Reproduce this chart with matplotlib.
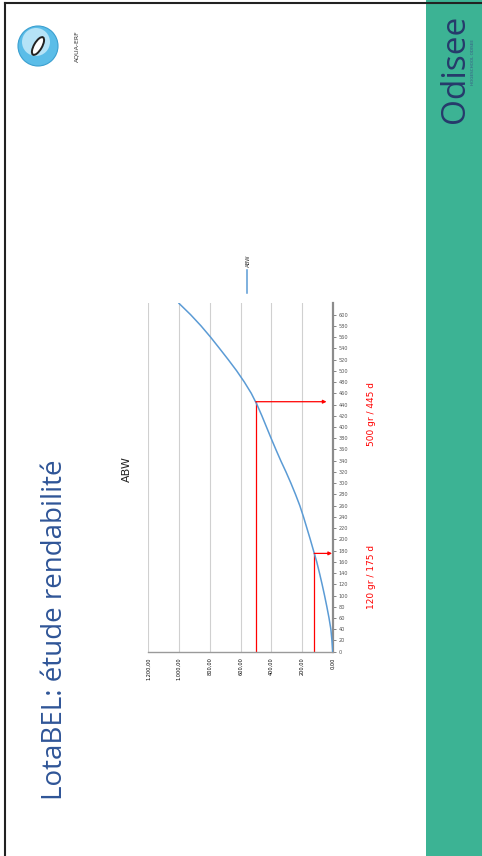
import numpy as np
import matplotlib.pyplot as plt
from matplotlib.patches import Circle, Ellipse, Rectangle
from matplotlib.lines import Line2D
from matplotlib.transforms import IdentityTransform

W, H = 482, 856

# growth curve (average body weight, g) per day
days = [0, 20, 40, 60, 80, 100, 120, 140, 160, 180, 200, 220, 240, 260, 280, 300,
        320, 340, 360, 380, 400, 420, 440, 460, 480, 500, 520, 540, 560, 580, 600, 620]
abw = [0, 5, 12, 24, 38, 53, 69, 86, 104, 125, 146, 168, 190, 214, 242, 272,
       304, 338, 370, 401, 431, 461, 493, 530, 575, 625, 680, 737, 795, 857, 925, 1000]

value_ticks = [0, 200, 400, 600, 800, 1000, 1200]
value_labels = ['0,00', '200,00', '400,00', '600,00', '800,00', '1.000,00', '1.200,00']
day_ticks = list(range(0, 601, 20))

markers = [(120, 175, '120 gr / 175 d'), (500, 445, '500 gr / 445 d')]


def fx(x):
    return x / W


def fy(y):
    return 1 - y / H


fig = plt.figure(figsize=(W / 100, H / 100), dpi=100)
fig.patch.set_facecolor('white')
px = IdentityTransform()

# slide frame and teal band
fig.add_artist(Rectangle((fx(426), 0), fx(W) - fx(426), 1, transform=fig.transFigure,
                         facecolor='#3cb394', edgecolor='none'))
fig.add_artist(Line2D([fx(5), fx(5)], [0, fy(3)], transform=fig.transFigure, color='#222222', lw=1.5))
fig.add_artist(Line2D([fx(5), 1], [fy(3), fy(3)], transform=fig.transFigure, color='#222222', lw=1.5))

# Odisee logo text
fig.text(fx(455), fy(69), 'Odisee', rotation=90, ha='center', va='center',
         fontsize=24, color='#263a6b', family='Open Sans')
fig.text(fx(473), fy(62), 'HOGESCHOOL ODISEE', rotation=90, ha='center', va='center',
         fontsize=3, color='#3b5a86')

# AQUA-ERF logo (pixel coordinates so it stays round)
fig.add_artist(Circle((38, H - 46), 20, transform=px,
                      facecolor='#5bbde8', edgecolor='#3a9fd0', lw=0.8))
fig.add_artist(Circle((36, H - 42), 14, transform=px,
                      facecolor='#b5e3f7', edgecolor='none'))
fig.add_artist(Ellipse((38, H - 46), 8, 20, angle=-30, transform=px,
                       facecolor='white', edgecolor='#222222', lw=1.4))
fig.text(fx(77), fy(46), 'AQUA-ERF', rotation=90, ha='center', va='center',
         fontsize=4.5, color='#333333')

# slide title
fig.text(fx(55), fy(630), 'LotaBEL: étude rendabilité', rotation=90, ha='center', va='center',
         fontsize=20, color='#2f5597', family='Open Sans')

# chart (rotated: values run right to left, days run bottom to top)
ax = fig.add_axes([fx(148.3), fy(651.7), fx(332.7) - fx(148.3), fy(303.4) - fy(651.7)])
ax.plot(abw, days, color='#5b9bd5', lw=1.1, zorder=3)

for v, d, txt in markers:
    ax.plot([v, v], [0, d], color='#ff0000', lw=0.9, zorder=2)
    tip = 4 if v < 200 else 40
    ax.annotate('', xy=(tip, d), xytext=(v, d),
                arrowprops=dict(arrowstyle='-|>', color='#ff0000', lw=0.9,
                                mutation_scale=5, shrinkA=0, shrinkB=0))

ax.set_xlim(1200, 0)
ax.set_ylim(0, 620)
ax.set_xticks(value_ticks)
ax.set_xticklabels(value_labels, rotation=90, fontsize=3.6)
ax.set_yticks(day_ticks)
ax.set_yticklabels([str(d) for d in day_ticks], fontsize=3.6)
ax.yaxis.tick_right()
ax.tick_params(axis='x', length=0, pad=4)
ax.tick_params(axis='y', length=2, width=0.5, pad=2, colors='#555555')
ax.grid(axis='x', color='#d0d0d0', lw=0.8)
ax.set_axisbelow(True)
for s in ['top', 'left']:
    ax.spines[s].set_visible(False)
ax.spines['right'].set_color('#8c8c8c')
ax.spines['right'].set_linewidth(1.6)
ax.spines['bottom'].set_color('#9a9a9a')
ax.spines['bottom'].set_linewidth(1.0)

# chart title and legend
fig.text(fx(127), fy(469), 'ABW', rotation=90, ha='center', va='center', fontsize=8, color='#222222')
fig.add_artist(Line2D([fx(247), fx(247)], [fy(293), fy(270)], transform=fig.transFigure,
                      color='#5b9bd5', lw=1.1))
fig.text(fx(248), fy(261), 'ABW', rotation=90, ha='center', va='center', fontsize=4, color='#333333')

# red annotations
fig.text(fx(371), fy(577), markers[0][2], rotation=90, ha='center', va='center', fontsize=6.5, color='#ff0000')
fig.text(fx(371), fy(414), markers[1][2], rotation=90, ha='center', va='center', fontsize=6.5, color='#ff0000')

fig.savefig('out.png', dpi=100)
